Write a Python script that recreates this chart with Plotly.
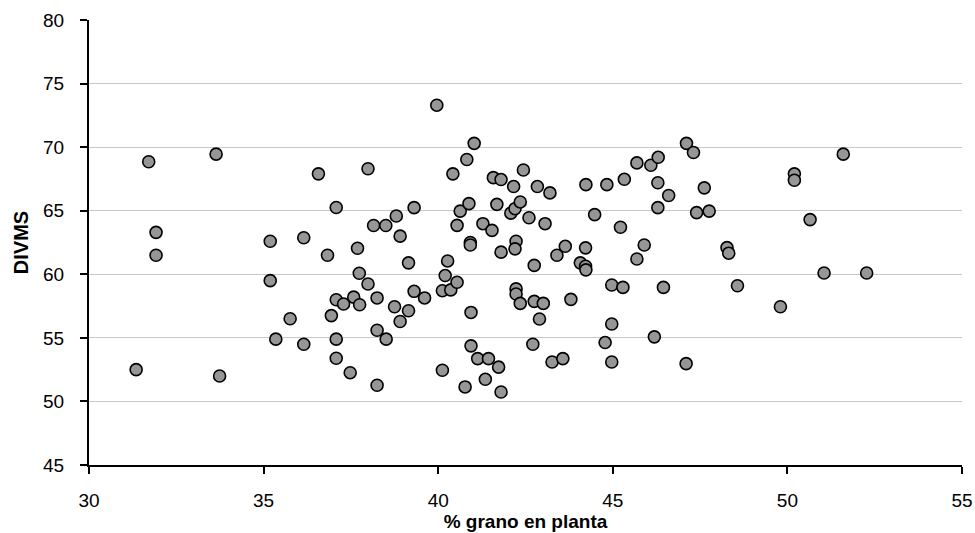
import plotly.graph_objects as go

pct_grano = [
    31.35, 31.71, 31.92, 31.92, 33.64, 33.74,
    35.19, 35.19, 35.35, 35.76, 36.15, 36.15,
    36.57, 36.83, 36.94, 37.08, 37.08, 37.08, 37.08, 37.29, 37.48, 37.58, 37.69, 37.74, 37.75,
    37.99, 37.99, 38.15, 38.25, 38.25, 38.25, 38.50, 38.51, 38.80, 38.75, 38.91, 38.91,
    39.15, 39.15, 39.31, 39.31, 39.61,
    39.96, 40.12, 40.12, 40.20, 40.27, 40.36, 40.42, 40.54, 40.54, 40.63, 40.77, 40.82,
    40.88, 40.92, 40.92, 40.94, 40.94, 41.03, 41.13, 41.28, 41.35, 41.44, 41.54, 41.58,
    41.68, 41.73, 41.80, 41.80, 41.80, 42.08, 42.16, 42.20, 42.23, 42.20, 42.23, 42.23,
    42.35, 42.35, 42.44, 42.60, 42.71, 42.75, 42.75, 42.84, 42.90, 43.01, 43.06, 43.20,
    43.26, 43.40, 43.57, 43.64, 43.80,
    44.07, 44.22, 44.23, 44.22, 44.23, 44.48, 44.83, 44.97, 45.22, 45.29, 45.33, 45.69,
    45.69, 45.90, 46.09, 46.30, 46.29, 46.29, 46.45, 46.60, 47.11, 47.31, 47.40, 47.62,
    47.76, 44.97, 44.78, 46.19, 44.97, 47.10,
    48.27, 48.32, 48.57, 49.80, 50.20, 50.20, 50.65, 51.05, 51.60, 52.27,
]

divms = [
    52.5, 68.85, 63.3, 61.5, 69.45, 52.0,
    62.6, 59.5, 54.9, 56.5, 62.87, 54.5,
    67.9, 61.5, 56.75, 65.25, 58.0, 54.9, 53.4, 57.66, 52.26, 58.2, 62.05, 60.08, 57.6,
    68.3, 59.24, 63.84, 58.14, 55.6, 51.27, 63.84, 54.9, 64.58, 57.45, 63.0, 56.29,
    60.9, 57.13, 65.24, 58.66, 58.14,
    73.3, 58.71, 52.45, 59.9, 61.05, 58.77, 67.9, 63.85, 59.37, 64.97, 51.14, 69.03,
    65.56, 62.5, 62.3, 57.0, 54.37, 70.3, 53.37, 63.98, 51.74, 53.37, 63.45, 67.6,
    65.5, 52.7, 67.45, 61.74, 50.74, 64.81, 66.9, 65.16, 62.6, 62.0, 58.85, 58.45,
    65.69, 57.71, 68.2, 64.45, 54.5, 60.7, 57.87, 66.9, 56.48, 57.71, 63.98, 66.4,
    53.1, 61.5, 53.37, 62.2, 58.03,
    60.9, 60.63, 60.35, 62.08, 67.05, 64.69, 67.05, 59.16, 63.7, 58.97, 67.47, 68.76,
    61.2, 62.3, 68.58, 69.2, 67.2, 65.24, 58.97, 66.2, 70.3, 69.58, 64.85, 66.8,
    64.97, 56.09, 54.63, 55.08, 53.1, 52.97,
    62.1, 61.66, 59.1, 57.45, 67.9, 67.4, 64.3, 60.1, 69.45, 60.1,
]

x_ticks = [30, 35, 40, 45, 50, 55]
y_ticks = [45, 50, 55, 60, 65, 70, 75, 80]

fig = go.Figure()
fig.add_trace(go.Scatter(
    x=pct_grano, y=divms, mode="markers",
    marker=dict(size=12, color="#969696", line=dict(color="#000000", width=1.6)),
    showlegend=False, cliponaxis=False,
))

font_family = "Liberation Sans, Arial, sans-serif"
fig.update_layout(
    width=975, height=533,
    margin=dict(l=89, r=13, t=20, b=68),
    paper_bgcolor="white", plot_bgcolor="white",
    font=dict(family=font_family, size=19, color="#000000"),
    xaxis=dict(
        range=[30, 55], tickvals=x_ticks, ticks="outside", ticklen=7, tickwidth=2,
        tickcolor="#000000", showline=True, linecolor="#000000", linewidth=2,
        showgrid=False, zeroline=False, ticklabelstandoff=10, automargin=False,
        title=dict(text="<b>% grano en planta</b>", font=dict(size=19), standoff=5),
    ),
    yaxis=dict(
        range=[45, 80], tickvals=y_ticks, ticks="outside", ticklen=7, tickwidth=2,
        tickcolor="#000000", showline=True, linecolor="#000000", linewidth=2,
        showgrid=True, gridcolor="#c8c8c8", gridwidth=1.3, zeroline=False,
        ticklabelstandoff=12, automargin=False,
        title=dict(text="<b>DIVMS</b>", font=dict(size=20), standoff=9),
    ),
)

fig.write_html("out.html")
